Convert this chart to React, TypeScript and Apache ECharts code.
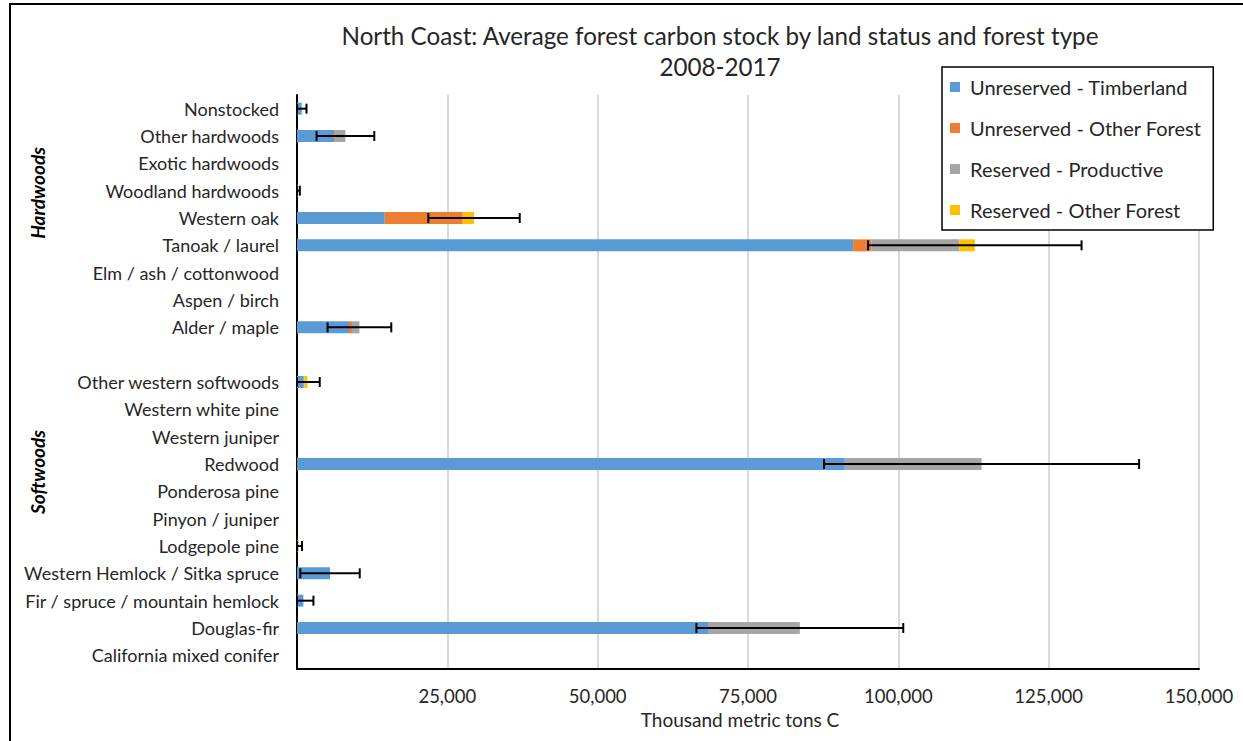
import React, { useEffect, useRef } from "react";
import * as echarts from "echarts";

const categories = [
  "Nonstocked",
  "Other hardwoods",
  "Exotic hardwoods",
  "Woodland hardwoods",
  "Western oak",
  "Tanoak / laurel",
  "Elm / ash / cottonwood",
  "Aspen / birch",
  "Alder / maple",
  "",
  "Other western softwoods",
  "Western white pine",
  "Western juniper",
  "Redwood",
  "Ponderosa pine",
  "Pinyon / juniper",
  "Lodgepole pine",
  "Western Hemlock / Sitka spruce",
  "Fir / spruce / mountain hemlock",
  "Douglas-fir",
  "California mixed conifer",
];

const unreservedTimberland = [780, 6150, 0, 120, 14590, 92480, 0, 0, 8650, 0, 1000, 0, 0, 91100, 0, 0, 100, 5490, 1060, 68480, 0];
const unreservedOtherForest = [0, 200, 0, 0, 12970, 3060, 0, 0, 500, 0, 0, 0, 0, 0, 0, 0, 0, 0, 0, 0, 0];
const reservedProductive = [0, 1700, 0, 0, 0, 14570, 0, 0, 1230, 0, 200, 0, 0, 22740, 0, 0, 0, 0, 0, 15140, 0];
const reservedOtherForest = [0, 0, 0, 0, 1880, 2610, 0, 0, 0, 0, 530, 0, 0, 0, 0, 0, 180, 0, 0, 0, 0];
const errorMargin = [800, 4800, 0, 350, 7600, 17750, 0, 0, 5300, 0, 2050, 0, 0, 26200, 0, 0, 550, 4940, 1670, 17200, 0];

const seriesNames = [
  "Unreserved - Timberland",
  "Unreserved - Other Forest",
  "Reserved - Productive",
  "Reserved - Other Forest",
];
const seriesColors = ["#5B9BD5", "#ED7D31", "#A5A5A5", "#FFC000"];

const xTicks = { min: 0, max: 150000, interval: 25000 };

const FONT = "Lato";

export default function App() {
  const ref = useRef<HTMLDivElement>(null);

  useEffect(() => {
    document.body.style.margin = "0";
    if (!ref.current) return;
    const chart = echarts.init(ref.current, null, { renderer: "svg" });

    const stacks = [unreservedTimberland, unreservedOtherForest, reservedProductive, reservedOtherForest];
    const totals = categories.map((_, i) => stacks.reduce((s, arr) => s + arr[i], 0));
    const errData = categories
      .map((_, i) => [totals[i], i, errorMargin[i]])
      .filter((d) => d[2] > 0);

    const barSeries = stacks.map((arr, k) => ({
      name: seriesNames[k],
      type: "bar",
      stack: "total",
      data: arr,
      barWidth: 12,
      itemStyle: { color: seriesColors[k] },
      emphasis: { disabled: true },
    }));

    const option = {
      animation: false,
      backgroundColor: "#ffffff",
      textStyle: { fontFamily: FONT },
      title: {
        text: "North Coast: Average forest carbon stock by land status and forest type\n2008-2017",
        left: 715,
        top: 15,
        textAlign: "center",
        textStyle: {
          fontFamily: FONT,
          fontSize: 24.2,
          fontWeight: "normal",
          color: "#262626",
          lineHeight: 31,
        },
      },
      legend: {
        orient: "vertical",
        left: 942,
        top: 67,
        data: seriesNames,
        icon: "rect",
        itemWidth: 10,
        itemHeight: 10,
        itemGap: 21,
        padding: [10, 12, 10, 8],
        borderColor: "#000000",
        borderWidth: 1.5,
        backgroundColor: "#ffffff",
        textStyle: {
          fontFamily: FONT,
          fontSize: 20,
          color: "#262626",
          lineHeight: 20,
          padding: [0, 0, 0, 5],
        },
        z: 10,
      },
      grid: { left: 297, right: 44, top: 95, bottom: 72, containLabel: false },
      xAxis: {
        type: "value",
        min: xTicks.min,
        max: xTicks.max,
        interval: xTicks.interval,
        name: "Thousand metric tons C",
        nameLocation: "middle",
        nameGap: 40,
        nameTextStyle: { fontFamily: FONT, fontSize: 19, color: "#262626", padding: [0, 16, 0, 0] },
        axisLine: { show: true, lineStyle: { color: "#000000", width: 2 } },
        axisTick: { show: false },
        axisLabel: {
          fontFamily: FONT,
          fontSize: 18.5,
          color: "#262626",
          margin: 17,
          formatter: (v: number) => (v === 0 ? "" : v.toLocaleString("en-US")),
        },
        splitLine: { show: true, lineStyle: { color: "#d9d9d9", width: 2 } },
      },
      yAxis: {
        type: "category",
        inverse: true,
        data: categories,
        axisLine: { show: true, lineStyle: { color: "#000000", width: 2 } },
        axisTick: { show: false },
        axisLabel: { fontFamily: FONT, fontSize: 18, color: "#262626", margin: 18 },
        splitLine: { show: false },
      },
      graphic: [
        {
          type: "rect",
          shape: { x: 10, y: 4, width: 1245, height: 750 },
          style: { fill: "none", stroke: "#000000", lineWidth: 2 },
          silent: true,
          z: 100,
        },
        {
          type: "text",
          x: 37,
          y: 193,
          rotation: Math.PI / 2,
          style: {
            text: "Hardwoods",
            fontFamily: FONT,
            fontSize: 19,
            fontWeight: "bold",
            fontStyle: "italic",
            fill: "#000000",
            textAlign: "center",
            textVerticalAlign: "middle",
          },
        },
        {
          type: "text",
          x: 37,
          y: 472,
          rotation: Math.PI / 2,
          style: {
            text: "Softwoods",
            fontFamily: FONT,
            fontSize: 19,
            fontWeight: "bold",
            fontStyle: "italic",
            fill: "#000000",
            textAlign: "center",
            textVerticalAlign: "middle",
          },
        },
      ],
      series: [
        ...barSeries,
        {
          name: "error",
          type: "custom",
          data: errData,
          encode: { x: 0, y: 1 },
          z: 5,
          renderItem: (params: any, api: any) => {
            const total = api.value(0);
            const idx = api.value(1);
            const err = api.value(2);
            const lo = api.coord([Math.max(0, total - err), idx]);
            const hi = api.coord([total + err, idx]);
            const cap = 5;
            const style = { stroke: "#000000", lineWidth: 2 };
            return {
              type: "group",
              children: [
                { type: "line", shape: { x1: lo[0], y1: lo[1], x2: hi[0], y2: hi[1] }, style },
                { type: "line", shape: { x1: lo[0], y1: lo[1] - cap, x2: lo[0], y2: lo[1] + cap }, style },
                { type: "line", shape: { x1: hi[0], y1: hi[1] - cap, x2: hi[0], y2: hi[1] + cap }, style },
              ],
            };
          },
        },
      ],
    };

    chart.setOption(option as any);
    return () => chart.dispose();
  }, []);

  return <div ref={ref} style={{ width: 1243, height: 741 }} />;
}
